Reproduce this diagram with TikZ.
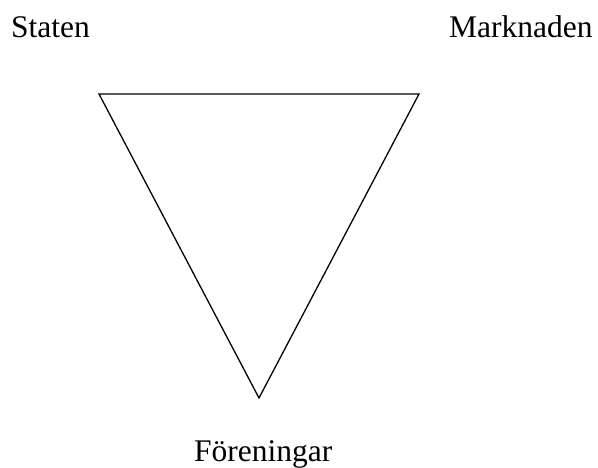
\documentclass[tikz,border=0pt]{standalone}
\usepackage{fontspec}
\setmainfont{Liberation Serif}
\begin{document}
\begin{tikzpicture}[x=1pt,y=1pt,
  lbl/.style={inner sep=0pt,anchor=base west,font=\fontsize{31.5}{36}\selectfont},
  tri/.style={draw=black,line width=1.3pt,line join=miter}]
\useasboundingbox (0,0) rectangle (598,468);
\node[lbl] (staten) at (11,430) {Staten};
\node[lbl] (marknaden) at (449,430) {Marknaden};
\node[lbl] (foreningar) at (194,6) {Föreningar};
\coordinate (a) at (99,374);
\coordinate (b) at (419,374);
\coordinate (c) at (259,70);
\draw[tri] (a) -- (b) -- (c) -- cycle;
\end{tikzpicture}
\end{document}
